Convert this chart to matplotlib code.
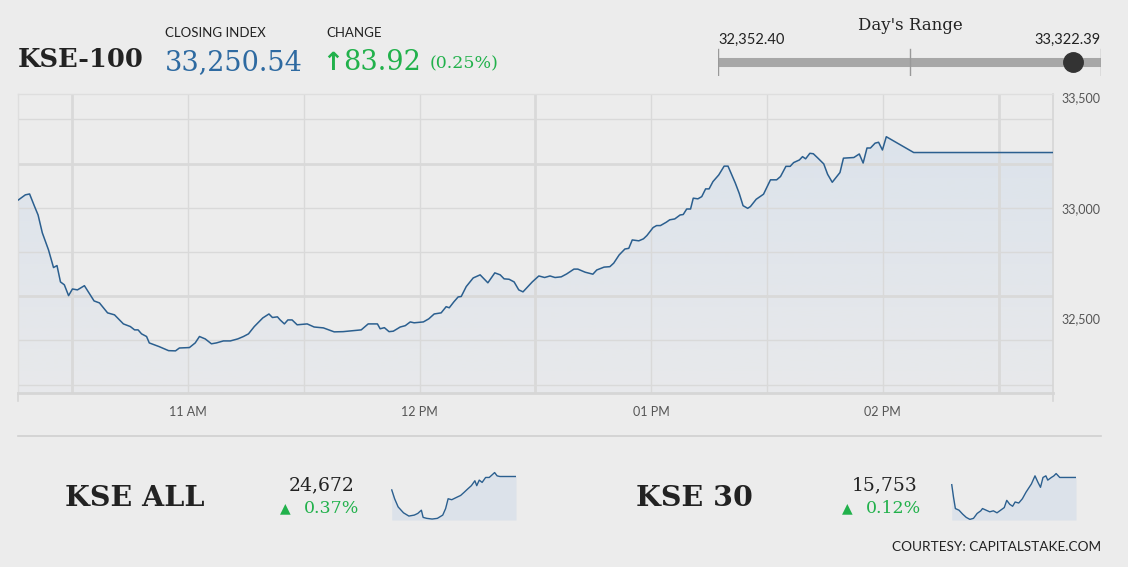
import numpy as np
import matplotlib
matplotlib.use("Agg")
import matplotlib.pyplot as plt
from matplotlib.colors import LinearSegmentedColormap

W, H = 1128, 567
BG = "#ececec"
BLUE = "#2e6aa1"
GREEN = "#21b14b"
LINE = "#2b5f8f"

# KSE-100 intraday (minutes after 10:00, index level)
minutes = [16.1, 17.9, 19.0, 20.3, 21.2, 22.3, 23.9, 25.2, 26.1, 27.0, 28.0, 29.1,
           30.1, 31.4, 33.2, 35.7, 37.1, 39.2, 41.0, 43.3, 45.1, 46.2, 47.1, 48.0,
           49.3, 50.0, 52.6, 55.0, 56.8, 57.8, 60.4, 61.9, 63.0, 64.5, 66.1, 67.4,
           69.2, 71.0, 72.9, 74.4, 75.7, 77.2, 79.4, 81.0, 81.9, 83.2, 83.9, 85.0,
           85.9, 87.0, 88.3, 90.9, 92.7, 95.1, 96.5, 97.9, 100.2, 104.9, 106.7, 109.1,
           109.8, 110.9, 112.1, 113.2, 115.0, 116.3, 117.6, 118.6, 121.0, 122.4, 123.8, 125.6,
           126.9, 127.7, 128.9, 130.0, 130.8, 132.1, 133.9, 135.7, 137.7, 139.5, 140.9, 141.9,
           143.2, 144.5, 145.7, 146.8, 149.2, 150.9, 152.4, 153.8, 155.1, 156.7, 158.1, 160.0,
           161.0, 162.9, 164.9, 165.9, 167.8, 169.3, 170.3, 171.7, 173.2, 174.2, 175.1, 176.8,
           178.0, 178.9, 180.5, 181.4, 182.4, 183.9, 184.8, 186.1, 187.5, 188.3, 189.2, 190.2,
           190.9, 192.1, 193.1, 194.1, 195.0, 196.0, 197.5, 198.9, 199.9, 201.8, 202.8, 203.8,
           205.0, 205.7, 207.2, 209.1, 210.9, 212.5, 213.5, 214.9, 216.0, 216.9, 218.4, 219.2,
           220.0, 221.1, 222.0, 223.2, 224.7, 225.7, 226.9, 228.9, 229.8, 232.5, 233.9, 234.9,
           235.9, 236.8, 238.0, 238.9, 239.9, 240.9, 248.0, 284.0]
index = [33036, 33059, 33063, 33006, 32968, 32887, 32810, 32730, 32739, 32665, 32652, 32603,
         32633, 32629, 32648, 32579, 32570, 32525, 32516, 32475, 32463, 32448, 32448, 32430,
         32418, 32389, 32372, 32354, 32353, 32366, 32368, 32389, 32418, 32407, 32385, 32389,
         32398, 32398, 32407, 32418, 32430, 32463, 32502, 32520, 32504, 32507, 32493, 32475,
         32493, 32493, 32471, 32475, 32461, 32457, 32448, 32439, 32440, 32448, 32475, 32475,
         32453, 32458, 32440, 32442, 32461, 32467, 32484, 32480, 32484, 32498, 32520, 32525,
         32553, 32548, 32575, 32597, 32599, 32644, 32683, 32697, 32661, 32706, 32697, 32679,
         32677, 32665, 32629, 32620, 32665, 32692, 32685, 32692, 32685, 32688, 32701, 32723,
         32723, 32709, 32700, 32719, 32732, 32734, 32750, 32787, 32814, 32817, 32855, 32851,
         32860, 32875, 32911, 32920, 32920, 32935, 32946, 32950, 32968, 32970, 32995, 32995,
         33044, 33041, 33051, 33086, 33086, 33119, 33149, 33189, 33189, 33112, 33066, 33010,
         32998, 33006, 33039, 33062, 33127, 33127, 33142, 33188, 33188, 33205, 33217, 33232,
         33222, 33247, 33245, 33225, 33199, 33152, 33116, 33160, 33225, 33228, 33244, 33203,
         33271, 33271, 33293, 33297, 33262, 33322, 33250.54, 33250.54]

x_tick_min = [60, 120, 180, 240]
x_tick_labels = ["11 AM", "12 PM", "01 PM", "02 PM"]
y_tick_vals = [32500, 33000, 33500]
y_tick_labels = ["32,500", "33,000", "33,500"]

closing = 33250.54
day_low, day_high = 32352.40, 33322.39

# sparklines: session fraction, relative level
kse_all_x = [0.006, 0.029, 0.057, 0.100, 0.143, 0.186, 0.214, 0.243, 0.257, 0.286, 0.329,
             0.371, 0.414, 0.437, 0.457, 0.486, 0.529, 0.557, 0.586, 0.614, 0.643, 0.671,
             0.686, 0.706, 0.729, 0.757, 0.786, 0.809, 0.829, 0.849, 0.871, 1.0]
kse_all_y = [0.657, 0.464, 0.286, 0.157, 0.086, 0.107, 0.143, 0.214, 0.057, 0.036, 0.021,
             0.036, 0.107, 0.25, 0.464, 0.443, 0.5, 0.536, 0.607, 0.679, 0.75, 0.857,
             0.75, 0.871, 0.821, 0.929, 0.929, 0.986, 1.036, 0.964, 0.95, 0.95]
kse30_x = [0.006, 0.020, 0.035, 0.064, 0.093, 0.122, 0.151, 0.180, 0.209, 0.238, 0.252, 0.281,
           0.310, 0.339, 0.368, 0.397, 0.426, 0.446, 0.470, 0.493, 0.513, 0.542, 0.571, 0.600,
           0.643, 0.672, 0.696, 0.716, 0.736, 0.759, 0.774, 0.803, 0.823, 0.841, 0.870, 1.0]
kse30_y = [0.771, 0.5, 0.25, 0.214, 0.129, 0.057, 0.014, 0.036, 0.143, 0.2, 0.25, 0.214,
           0.179, 0.2, 0.157, 0.214, 0.271, 0.429, 0.343, 0.3, 0.393, 0.371, 0.464, 0.607,
           0.786, 0.964, 0.821, 0.714, 0.929, 0.964, 0.871, 0.929, 0.964, 1.014, 0.929, 0.929]


def fx(px):
    return px / W


def fy(py):
    return 1 - py / H


fig = plt.figure(figsize=(W / 100, H / 100), dpi=100, facecolor=BG)
SERIF = "DejaVu Serif"
SANS = "Lato"

# ---- header ----
fig.text(fx(18), fy(67), "KSE-100", family=SERIF, weight="bold", fontsize=18.5, color="#222222")
fig.text(fx(165), fy(37), "CLOSING INDEX", family=SANS, fontsize=9.5, color="#222222")
fig.text(fx(326), fy(37), "CHANGE", family=SANS, fontsize=9.5, color="#222222")
fig.text(fx(165), fy(70), "33,250.54", family=SERIF, fontsize=19.5, color=BLUE)
fig.text(fx(322), fy(70), "\u2191", family="DejaVu Sans", fontsize=18, weight="bold", color=GREEN)
fig.text(fx(343), fy(70), "83.92", family=SERIF, fontsize=19.5, color=GREEN)
fig.text(fx(430), fy(68), "(0.25%)", family=SERIF, fontsize=12.5, color=GREEN)

# ---- day's range ----
fig.text(fx(910), fy(30), "Day's Range", family=SERIF, fontsize=12, color="#222222", ha="center")
fig.text(fx(718), fy(44), f"{day_low:,.2f}", family=SANS, fontsize=10.5, color="#222222")
fig.text(fx(1101), fy(44), f"{day_high:,.2f}", family=SANS, fontsize=10.5, color="#222222", ha="right")
rax = fig.add_axes([fx(718), fy(76), fx(1101) - fx(718), (76 - 48) / H])
rax.set_xlim(day_low, day_high)
rax.set_ylim(0, 1)
rax.axis("off")
rax.plot([day_low, day_high], [0.5, 0.5], color="#a7a7a7", lw=6.5, solid_capstyle="butt")
for v in [day_low, (day_low + day_high) / 2, day_high]:
    rax.plot([v, v], [0.05, 0.95], color="#999999", lw=1)
rax.plot([closing], [0.5], "o", ms=14, color="#333333", clip_on=False)

# ---- main chart ----
ax = fig.add_axes([fx(18), fy(393.3), fx(1052.7) - fx(18), (393.3 - 94.3) / H])
ax.set_facecolor(BG)
x0, x1 = 16.0, 284.0
y0, y1 = 32161, 33514

for v in range(32200, 33500, 200):
    thick = v in (32600, 33200)
    ax.axhline(v, color="#d9d9d9", lw=2.0 if thick else 1.0, zorder=2)
for m in range(30, 284, 30):
    thick = m in (30, 150, 270)
    ax.axvline(m, color="#d9d9d9", lw=2.0 if thick else 1.0, zorder=2)

poly = ax.fill_between(minutes, index, y0, color="none")
grad = np.linspace(0, 1, 256).reshape(-1, 1)
cmap = LinearSegmentedColormap.from_list("fill", ["#e8e9eb", "#dce3eb"])
im = ax.imshow(grad, extent=[x0, x1, y0, 33330], aspect="auto", cmap=cmap,
               origin="lower", zorder=1, alpha=0.95)
im.set_clip_path(poly.get_paths()[0], transform=ax.transData)
ax.plot(minutes, index, color=LINE, lw=1.1, zorder=3)

ax.set_xlim(x0, x1)
ax.set_ylim(y0, y1)
ax.set_xticks(x_tick_min)
ax.set_xticklabels(x_tick_labels)
ax.set_yticks(y_tick_vals)
ax.set_yticklabels(y_tick_labels)
ax.yaxis.tick_right()
ax.tick_params(axis="both", length=0, labelsize=9, labelcolor="#555555")
ax.tick_params(axis="x", pad=9)
ax.tick_params(axis="y", pad=6)
for lab in ax.get_xticklabels() + ax.get_yticklabels():
    lab.set_family(SANS)
for side in ["top", "left"]:
    ax.spines[side].set_color("#dedede")
    ax.spines[side].set_linewidth(1)
ax.spines["bottom"].set_color("#d6d6d6")
ax.spines["bottom"].set_linewidth(2)
ax.spines["right"].set_color("#d6d6d6")
ax.spines["right"].set_linewidth(1.2)
for m in [x0, x1]:
    ax.plot([m, m], [0, -0.025], transform=ax.get_xaxis_transform(), color="#d6d6d6",
            lw=1.2, clip_on=False)

# separator
fig.add_artist(plt.Line2D([fx(18), fx(1101)], [fy(436), fy(436)], color="#d0d0d0", lw=1.2))

# ---- bottom indices ----
def small_index(name, name_x, value, value_cx, pct, tri_cx, pct_x, spark_left, sx, sy):
    fig.text(fx(name_x), fy(506), name, family=SERIF, weight="bold", fontsize=20.5, color="#222222")
    fig.text(fx(value_cx), fy(490), value, family=SERIF, fontsize=13.5, color="#222222", ha="center")
    fig.text(fx(tri_cx), fy(508), "\u25b2", family="DejaVu Sans", fontsize=10, color=GREEN,
             ha="center", va="center")
    fig.text(fx(pct_x), fy(513), pct, family=SERIF, fontsize=12.5, color=GREEN)
    sax = fig.add_axes([fx(spark_left), fy(520), 125 / W, (520 - 471) / H])
    sax.fill_between(sx, sy, 0, color="#dce2ea", lw=0)
    sax.plot(sx, sy, color=LINE, lw=1)
    sax.set_xlim(0, 1)
    sax.set_ylim(0, 1.07)
    sax.axis("off")


small_index("KSE ALL", 65, "24,672", 322, "0.37%", 285, 304, 391, kse_all_x, kse_all_y)
small_index("KSE 30", 636, "15,753", 885, "0.12%", 847, 866, 951, kse30_x, kse30_y)

fig.text(fx(1101), fy(551), "COURTESY: CAPITALSTAKE.COM", family=SANS, fontsize=9.8,
         color="#222222", ha="right")

fig.savefig("out.png", dpi=100, facecolor=BG)
